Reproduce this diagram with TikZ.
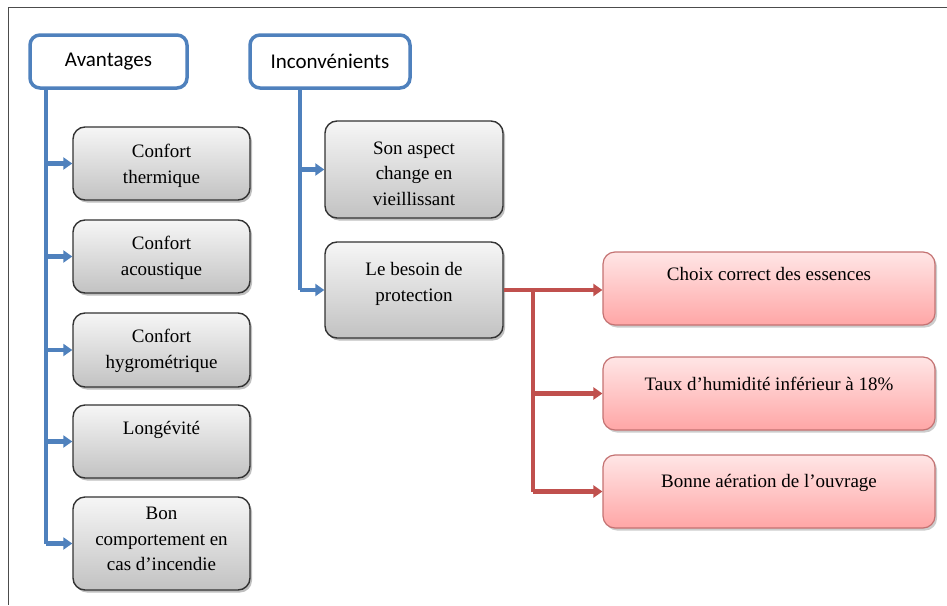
\documentclass[tikz,border=0pt]{standalone}
\usepackage{fontspec}
\setmainfont{Liberation Serif}
\newfontfamily\carlito{Carlito}
\usetikzlibrary{arrows.meta,shadows,calc}
\definecolor{blueC}{HTML}{4F81BD}
\definecolor{redC}{HTML}{C0504D}
\definecolor{grayTop}{HTML}{F6F6F6}
\definecolor{grayBot}{HTML}{C2C2C2}
\definecolor{pinkTop}{HTML}{FFE6E6}
\definecolor{pinkBot}{HTML}{FFA6A6}
\definecolor{pinkLine}{HTML}{C47272}
\begin{document}
\begin{tikzpicture}[x=1pt,y=-1pt,
  headbox/.style={draw=blueC, line width=3.5pt, rounded corners=10pt, fill=white,
    minimum height=53pt, inner sep=0pt, font=\carlito\fontsize{21}{24}\selectfont},
  graybox/.style={draw=black!80, line width=1.4pt, rounded corners=12pt,
    top color=grayTop, bottom color=grayBot, inner sep=0pt,
    drop shadow={shadow xshift=2pt, shadow yshift=-2.5pt, opacity=0.25, fill=black}},
  pinkbox/.style={draw=pinkLine, line width=1.2pt, rounded corners=12pt,
    top color=pinkTop, bottom color=pinkBot, inner sep=0pt,
    drop shadow={shadow xshift=2pt, shadow yshift=-2.5pt, opacity=0.2, fill=black}},
  txt/.style={anchor=north, align=center, inner sep=0pt,
    font=\fontsize{19}{25.5}\selectfont},
  bline/.style={draw=blueC, line width=4.2pt},
  barrow/.style={bline, -{Triangle[length=9pt,width=12pt]}},
  rline/.style={draw=redC, line width=4.2pt},
  rarrow/.style={rline, -{Triangle[length=9pt,width=12pt]}}]
\useasboundingbox (0,0) rectangle (947,605);
% frame
\draw[black!70, line width=0.9pt] (947,7) -- (8,7) -- (8,605);
% headers
\node[headbox, minimum width=157pt] (av) at (108.5,61.5) {Avantages};
\node[headbox, minimum width=160pt] (inc) at (330,61.5) {Inconvénients};
% left column
\node[graybox, minimum width=177pt, minimum height=73pt] (ct) at (161.5,163.5) {};
\node[graybox, minimum width=177pt, minimum height=73pt] (ca) at (161.5,256.5) {};
\node[graybox, minimum width=177pt, minimum height=74pt] (chy) at (161.5,350) {};
\node[graybox, minimum width=177pt, minimum height=73pt] (lg) at (161.5,441.5) {};
\node[graybox, minimum width=177pt, minimum height=93pt] (bc) at (161.5,543.5) {};
\node[txt] (ctt) at ($(ct.north)+(0,18)$) {Confort\\thermique};
\node[txt] (cat) at ($(ca.north)+(0,17)$) {Confort\\acoustique};
\node[txt] (chyt) at ($(chy.north)+(0,17)$) {Confort\\hygrométrique};
\node[txt] (lgt) at ($(lg.north)+(0,17)$) {Longévité};
\node[txt] (bct) at ($(bc.north)+(0,11)$) {Bon\\comportement en\\cas d’incendie};
% middle column
\node[graybox, minimum width=178pt, minimum height=97pt] (sa) at (414,169.5) {};
\node[graybox, minimum width=178pt, minimum height=96pt] (bp) at (414,290) {};
\node[txt] (sat) at ($(sa.north)+(0,21)$) {Son aspect\\change en\\vieillissant};
\node[txt] (bpt) at ($(bp.north)+(0,21)$) {Le besoin de\\protection};
% right column
\node[pinkbox, minimum width=332pt, minimum height=73pt] (ce) at (769,288.5) {};
\node[pinkbox, minimum width=332pt, minimum height=73pt] (th) at (769,393.5) {};
\node[pinkbox, minimum width=332pt, minimum height=73pt] (ba) at (769,491.5) {};
\node[txt] (cet) at ($(ce.north)+(0,16)$) {Choix correct des essences};
\node[txt] (tht) at ($(th.north)+(0,21)$) {Taux d’humidité inférieur à 18\%};
\node[txt] (bat) at ($(ba.north)+(0,20)$) {Bonne aération de l’ouvrage};
% blue trunks
\coordinate (tA) at (46,0);
\coordinate (tI) at (300,0);
\draw[bline] (av.south -| tA) -- (tA |- bc.west);
\foreach \b in {ct,ca,chy,lg,bc} \draw[barrow] (tA |- \b.west) -- (\b.west);
\draw[bline] (inc.south -| tI) -- (tI |- bp.west);
\foreach \b in {sa,bp} \draw[barrow] (tI |- \b.west) -- (\b.west);
% red branches
\coordinate (tR) at (533,0);
\draw[rarrow] (bp.east) -- (ce.west |- bp.east);
\draw[rline] (tR |- bp.east) -- (tR |- ba.west);
\foreach \b in {th,ba} \draw[rarrow] (tR |- \b.west) -- (\b.west);
\end{tikzpicture}
\end{document}
